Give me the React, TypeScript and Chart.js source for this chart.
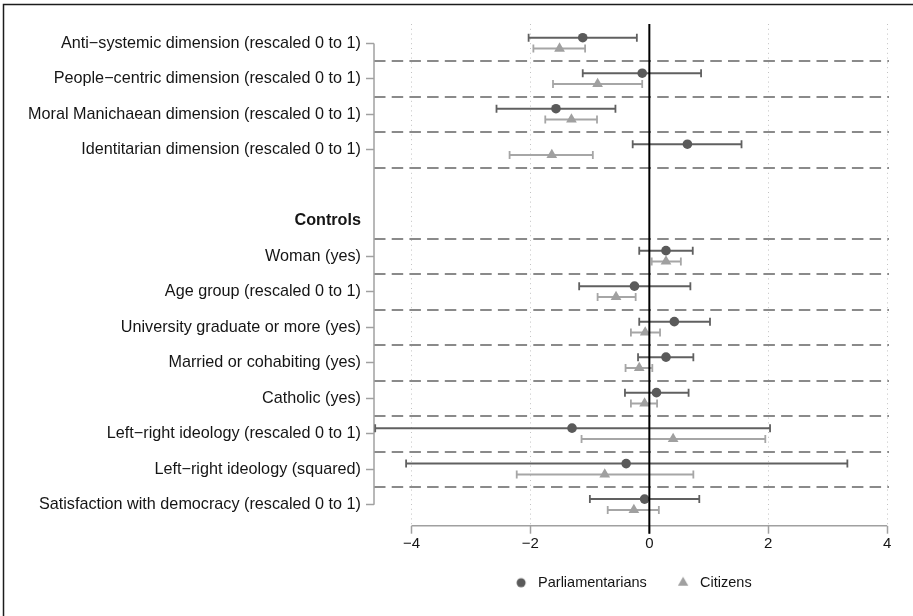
import { useEffect, useRef } from "react";
import { Chart, registerables } from "chart.js";

Chart.register(...registerables);

// ---------------- data ----------------
const rowLabels = [
  "Anti−systemic dimension (rescaled 0 to 1)",
  "People−centric dimension (rescaled 0 to 1)",
  "Moral Manichaean dimension (rescaled 0 to 1)",
  "Identitarian dimension (rescaled 0 to 1)",
  "",
  "Controls",
  "Woman (yes)",
  "Age group (rescaled 0 to 1)",
  "University graduate or more (yes)",
  "Married or cohabiting (yes)",
  "Catholic (yes)",
  "Left−right ideology (rescaled 0 to 1)",
  "Left−right ideology (squared)",
  "Satisfaction with democracy (rescaled 0 to 1)",
];
const headerRows = [5];
const blankRows = [4];
const coefRows = [0, 1, 2, 3, 6, 7, 8, 9, 10, 11, 12, 13];

const seriesNames = ["Parliamentarians", "Citizens"];

const parlEst = [-1.12, -0.12, -1.57, 0.64, 0.28, -0.25, 0.42, 0.28, 0.12, -1.3, -0.39, -0.08];
const parlLo = [-2.03, -1.12, -2.57, -0.28, -0.17, -1.18, -0.17, -0.19, -0.41, -4.61, -4.09, -1.0];
const parlHi = [-0.21, 0.87, -0.57, 1.55, 0.73, 0.69, 1.02, 0.74, 0.66, 2.03, 3.33, 0.84];

const citEst = [-1.51, -0.87, -1.31, -1.64, 0.28, -0.56, -0.07, -0.17, -0.08, 0.4, -0.75, -0.26];
const citLo = [-1.95, -1.62, -1.75, -2.35, 0.04, -0.87, -0.31, -0.4, -0.31, -1.14, -2.23, -0.7];
const citHi = [-1.08, -0.12, -0.88, -0.95, 0.53, -0.23, 0.18, 0.05, 0.13, 1.95, 0.74, 0.16];

const xTicks = [-4, -2, 0, 2, 4];

// ---------------- style ----------------
const FONT = "'Liberation Sans', Arial, Helvetica, sans-serif";
const TEXT = "#151515";
const AXIS = "#a0a0a0";
const SEP = "#8a8a8a";
const GRID = "#c2c2c2";
const PARL_PT = "#5a5a5a";
const PARL_CI = "#606060";
const CIT_PT = "#a0a0a0";
const CIT_CI = "#a6a6a6";
const PARL_OFF = -0.16;
const CIT_OFF = 0.145;

function makeMarker(kind: "circle" | "triangle", color: string) {
  const c = document.createElement("canvas");
  c.width = 14;
  c.height = 14;
  const g = c.getContext("2d")!;
  g.fillStyle = color;
  g.beginPath();
  if (kind === "circle") {
    g.arc(7, 7, 4.5, 0, Math.PI * 2);
  } else {
    const r = 6;
    g.moveTo(7, 7 - r);
    g.lineTo(7 + r * 0.866, 7 + r / 2);
    g.lineTo(7 - r * 0.866, 7 + r / 2);
    g.closePath();
  }
  g.fill();
  return c;
}

const decor = {
  id: "decor",
  beforeDraw(chart: any) {
    const { ctx, width, height } = chart;
    ctx.save();
    ctx.strokeStyle = "#1c1c1c";
    ctx.lineWidth = 1.5;
    ctx.beginPath();
    ctx.moveTo(3.5, height);
    ctx.lineTo(3.5, 4.5);
    ctx.lineTo(width, 4.5);
    ctx.stroke();
    ctx.restore();
  },
  beforeDatasetsDraw(chart: any) {
    const { ctx, chartArea: a, scales } = chart;
    const x = scales.x;
    const y = scales.y;
    ctx.save();
    // dashed separators between rows
    ctx.strokeStyle = SEP;
    ctx.lineWidth = 1.8;
    ctx.setLineDash([11.5, 6.2]);
    for (let i = 0; i < rowLabels.length - 1; i++) {
      if (blankRows.includes(i)) continue;
      const py = Math.round(y.getPixelForValue(i + 0.5));
      ctx.beginPath();
      ctx.moveTo(a.left, py);
      ctx.lineTo(a.right, py);
      ctx.stroke();
    }
    ctx.setLineDash([]);
    // y axis line (first to last row)
    ctx.strokeStyle = AXIS;
    ctx.lineWidth = 1.5;
    ctx.beginPath();
    ctx.moveTo(a.left, y.getPixelForValue(0));
    ctx.lineTo(a.left, y.getPixelForValue(rowLabels.length - 1));
    ctx.stroke();
    // x axis line (first to last tick)
    ctx.beginPath();
    ctx.moveTo(x.getPixelForValue(xTicks[0]), a.bottom);
    ctx.lineTo(x.getPixelForValue(xTicks[xTicks.length - 1]), a.bottom);
    ctx.stroke();
    ctx.restore();
  },
  afterDatasetsDraw(chart: any) {
    const { ctx, chartArea: a, scales } = chart;
    const px = scales.x.getPixelForValue(0);
    ctx.save();
    ctx.strokeStyle = "#000";
    ctx.lineWidth = 2;
    ctx.beginPath();
    ctx.moveTo(px, a.top);
    ctx.lineTo(px, a.bottom + 8);
    ctx.stroke();
    ctx.restore();
  },
};

export default function App() {
  const ref = useRef<HTMLCanvasElement>(null);

  useEffect(() => {
    if (!ref.current) return;
    const parlMarker = makeMarker("circle", PARL_PT);
    const citMarker = makeMarker("triangle", CIT_PT);

    const ciSets: any[] = [];
    coefRows.forEach((row, i) => {
      ciSets.push({
        label: "",
        data: [
          { x: parlLo[i], y: row + PARL_OFF },
          { x: parlHi[i], y: row + PARL_OFF },
        ],
        showLine: true,
        fill: false,
        borderColor: PARL_CI,
        borderWidth: 2,
        pointStyle: "line",
        pointRotation: 90,
        pointRadius: 4,
        pointHoverRadius: 4,
        pointBorderColor: PARL_CI,
        pointBorderWidth: 1.8,
        order: 2,
      });
      ciSets.push({
        label: "",
        data: [
          { x: citLo[i], y: row + CIT_OFF },
          { x: citHi[i], y: row + CIT_OFF },
        ],
        showLine: true,
        fill: false,
        borderColor: CIT_CI,
        borderWidth: 2,
        pointStyle: "line",
        pointRotation: 90,
        pointRadius: 4,
        pointHoverRadius: 4,
        pointBorderColor: CIT_CI,
        pointBorderWidth: 1.8,
        order: 2,
      });
    });

    const parlPts = {
      label: seriesNames[0],
      data: coefRows.map((row, i) => ({ x: parlEst[i], y: row + PARL_OFF })),
      showLine: false,
      pointStyle: "circle",
      pointRadius: 4.8,
      pointHoverRadius: 4.8,
      pointBackgroundColor: PARL_PT,
      pointBorderColor: PARL_PT,
      pointBorderWidth: 0,
      order: 0,
    };
    const citPts = {
      label: seriesNames[1],
      data: coefRows.map((row, i) => ({ x: citEst[i], y: row + CIT_OFF })),
      showLine: false,
      pointStyle: "triangle",
      pointRadius: 6.2,
      pointHoverRadius: 6.2,
      pointBackgroundColor: CIT_PT,
      pointBorderColor: CIT_PT,
      pointBorderWidth: 0,
      order: 0,
    };

    const datasets = [...ciSets, parlPts, citPts];

    const chart = new Chart(ref.current, {
      type: "scatter",
      data: { datasets },
      options: {
        responsive: false,
        animation: false,
        events: [],
        layout: { padding: { left: 0, right: 24, top: 24, bottom: 16 } },
        plugins: {
          tooltip: { enabled: false },
          legend: {
            display: true,
            position: "bottom",
            fullSize: false,
            align: "center",
            labels: {
              usePointStyle: true,
              pointStyleWidth: 19.5,
              boxHeight: 10,
              padding: 26.5,
              color: TEXT,
              font: { family: FONT, size: 14.5 },
              generateLabels: () => [
                {
                  text: seriesNames[0],
                  pointStyle: parlMarker,
                  fillStyle: PARL_PT,
                  strokeStyle: PARL_PT,
                  lineWidth: 0,
                  hidden: false,
                  fontColor: TEXT,
                  datasetIndex: datasets.length - 2,
                },
                {
                  text: seriesNames[1],
                  pointStyle: citMarker,
                  fillStyle: CIT_PT,
                  strokeStyle: CIT_PT,
                  lineWidth: 0,
                  hidden: false,
                  fontColor: TEXT,
                  datasetIndex: datasets.length - 1,
                },
              ],
            },
          },
        },
        scales: {
          x: {
            type: "linear",
            min: -4.63,
            max: 4.03,
            afterBuildTicks: (s: any) => {
              s.ticks = xTicks.map((v) => ({ value: v }));
            },
            afterFit: (s: any) => {
              s.height = 23.3;
            },
            grid: {
              display: true,
              drawOnChartArea: true,
              drawTicks: true,
              tickLength: 8,
              color: GRID,
              lineWidth: 1,
              tickColor: AXIS,
              tickWidth: 1.5,
            },
            border: { display: false, dash: [1, 3.8] },
            ticks: {
              padding: 1,
              color: TEXT,
              maxRotation: 0,
              autoSkip: false,
              font: { family: FONT, size: 15 },
              callback: (v: any) => String(v).replace("-", "−"),
            },
          },
          y: {
            type: "linear",
            reverse: true,
            min: -0.546,
            max: 13.589,
            afterBuildTicks: (s: any) => {
              s.ticks = rowLabels.map((_, i) => ({ value: i }));
            },
            afterFit: (s: any) => {
              s.width = 374;
            },
            grid: {
              display: true,
              drawOnChartArea: false,
              drawTicks: true,
              tickLength: 8,
              tickWidth: 1.5,
              tickColor: (c: any) =>
                blankRows.includes(c.index) || headerRows.includes(c.index) ? "rgba(0,0,0,0)" : AXIS,
            },
            border: { display: false },
            ticks: {
              padding: 5,
              color: TEXT,
              autoSkip: false,
              font: (c: any) => ({
                family: FONT,
                size: 16.2,
                weight: headerRows.includes(c.index) ? "bold" : "normal",
              }),
              callback: (_v: any, i: number) => rowLabels[i] ?? "",
            },
          },
        },
      } as any,
      plugins: [decor],
    });
    return () => chart.destroy();
  }, []);

  return (
    <div style={{ position: "fixed", left: 0, top: 0, width: 913, height: 616, background: "#fff" }}>
      <canvas ref={ref} width={913} height={616} style={{ display: "block" }} />
    </div>
  );
}
